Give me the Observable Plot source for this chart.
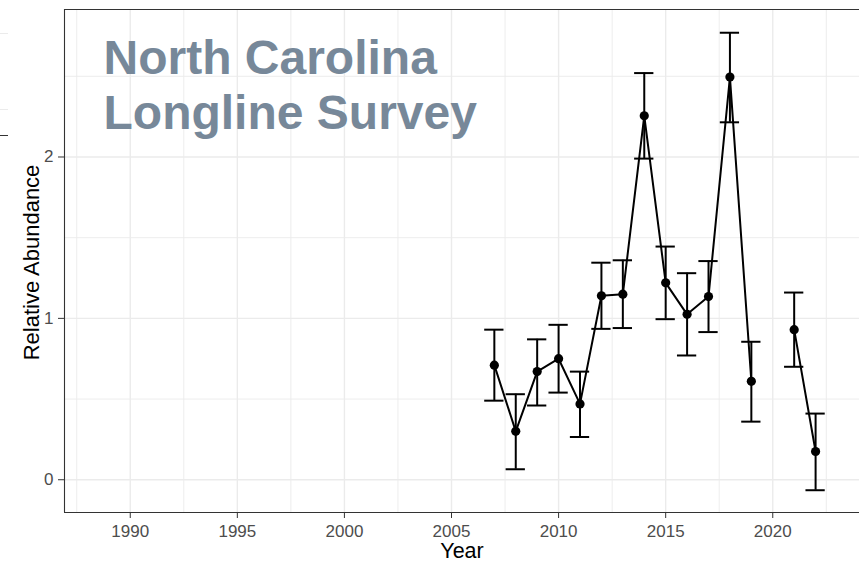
<!DOCTYPE html>
<html>
<head>
<meta charset="utf-8">
<script src="https://cdn.jsdelivr.net/npm/d3@7"></script>
<script src="https://cdn.jsdelivr.net/npm/@observablehq/plot@0.6"></script>
<style>
  html, body { margin: 0; padding: 0; background: #fff; }
  #wrap { position: relative; width: 859px; height: 562px; }
  .stub { position: absolute; left: 0; width: 8px; height: 0; }
</style>
</head>
<body>
<div id="wrap">
  <div class="stub" style="top:33px;border-top:1px solid #ebebeb"></div>
  <div class="stub" style="top:109px;border-top:1px solid #ebebeb"></div>
  <div class="stub" style="top:135px;border-top:1px solid #333"></div>
</div>
<script>
// ---- data ----
const years = [2007, 2008, 2009, 2010, 2011, 2012, 2013, 2014, 2015, 2016, 2017, 2018, 2019, 2020, 2021, 2022];
const abundance = [0.71, 0.30, 0.67, 0.75, 0.47, 1.14, 1.15, 2.255, 1.22, 1.025, 1.135, 2.495, 0.61, null, 0.93, 0.175];
const lower = [0.49, 0.065, 0.46, 0.54, 0.265, 0.935, 0.94, 1.99, 0.995, 0.77, 0.915, 2.215, 0.36, null, 0.70, -0.065];
const upper = [0.93, 0.53, 0.87, 0.96, 0.67, 1.345, 1.36, 2.52, 1.445, 1.28, 1.355, 2.77, 0.855, null, 1.16, 0.41];

const xTicks = [1990, 1995, 2000, 2005, 2010, 2015, 2020];
const xMinor = [1987.5, 1992.5, 1997.5, 2002.5, 2007.5, 2012.5, 2017.5, 2022.5];
const yTicks = [0, 1, 2];
const yMinor = [0.5, 1.5, 2.5];
const xDomain = [1986.93, 2024.05];
const yDomain = [-0.203, 2.914];
const titleLines = ["North Carolina", "Longline Survey"];
const xTitle = "Year";
const yTitle = "Relative Abundance";

const rows = years.map((year, i) => ({year, value: abundance[i], lo: lower[i], hi: upper[i]}));
const bars = rows.filter(d => d.value != null);
const capHalf = 0.45;

const font = "'Liberation Sans', Arial, Helvetica, sans-serif";
const grid = "#ebebeb";
const dark = "#333333";

const chart = Plot.plot({
  width: 859,
  height: 562,
  marginLeft: 64,
  marginRight: 0,
  marginTop: 9,
  marginBottom: 50,
  style: {fontFamily: font, background: "#fff", overflow: "visible"},
  x: {domain: xDomain},
  y: {domain: yDomain},
  marks: [
    Plot.ruleX(xMinor, {stroke: grid, strokeWidth: 0.9}),
    Plot.ruleY(yMinor, {stroke: grid, strokeWidth: 0.9}),
    Plot.ruleX(xTicks, {stroke: grid, strokeWidth: 1.4}),
    Plot.ruleY(yTicks, {stroke: grid, strokeWidth: 1.4}),
    Plot.text([titleLines.join("\n")], {
      frameAnchor: "top-left", dx: 39, dy: 25, text: d => d,
      fontSize: 48, fontWeight: "bold", fill: "#778899", lineHeight: 1.146
    }),
    Plot.ruleX(bars, {x: "year", y1: "lo", y2: "hi", stroke: "black", strokeWidth: 2}),
    Plot.ruleY(bars, {y: "hi", x1: d => d.year - capHalf, x2: d => d.year + capHalf, stroke: "black", strokeWidth: 2}),
    Plot.ruleY(bars, {y: "lo", x1: d => d.year - capHalf, x2: d => d.year + capHalf, stroke: "black", strokeWidth: 2}),
    Plot.line(rows, {x: "year", y: "value", stroke: "black", strokeWidth: 2}),
    Plot.dot(bars, {x: "year", y: "value", r: 4.6, fill: "black"}),
    Plot.ruleX([xDomain[0]], {stroke: dark, strokeWidth: 1.1}),
    Plot.ruleY([yDomain[0], yDomain[1]], {stroke: dark, strokeWidth: 1.1}),
    Plot.axisX(xTicks, {tickSize: 6, tickPadding: 6, fontSize: 17, color: "#4d4d4d", stroke: dark, label: null, tickFormat: d => String(d)}),
    Plot.axisY(yTicks, {tickSize: 6, tickPadding: 5, fontSize: 17, color: "#4d4d4d", stroke: dark, label: null, tickFormat: d => String(d)}),
    Plot.text([xTitle], {frameAnchor: "bottom", dy: 38.5, lineAnchor: "middle", textAnchor: "middle", text: d => d, fontSize: 21.5, fill: "black"}),
    Plot.text([yTitle], {frameAnchor: "left", dx: -33, dy: 1.5, rotate: -90, lineAnchor: "middle", textAnchor: "middle", text: d => d, fontSize: 22, fill: "black"})
  ]
});
chart.style.position = "absolute";
chart.style.left = "0";
chart.style.top = "0";
const wrap = document.getElementById("wrap");
wrap.insertBefore(chart, wrap.firstChild);
</script>
</body>
</html>
